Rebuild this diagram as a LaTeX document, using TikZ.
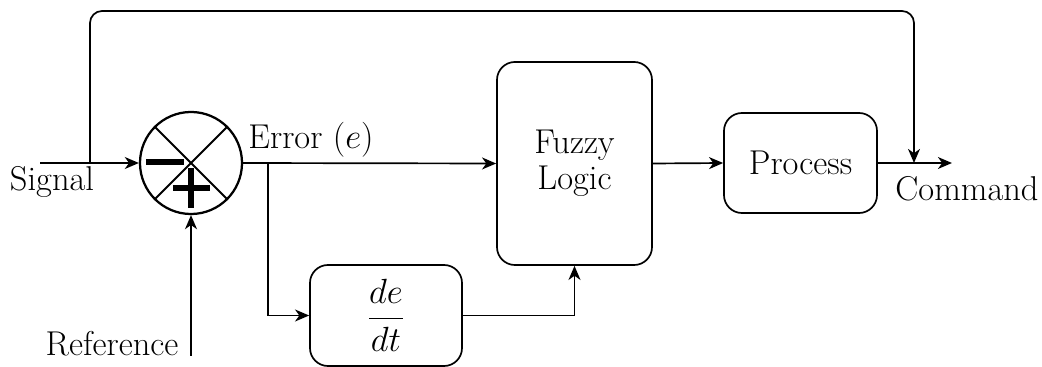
\documentclass[tikz,border=0pt]{standalone}
\usetikzlibrary{arrows.meta,calc}
\begin{document}
\begin{tikzpicture}[x=0.025cm,y=-0.025cm,
  every node/.style={font=\fontsize{24.5}{28}\selectfont},
  blockbox/.style={draw,line width=1.2pt,rounded corners=0.45cm,inner sep=0pt,align=center},
  arr/.style={line width=1.2pt,-{Stealth[length=10pt,width=8.5pt,inset=3pt]}},
  sign/.style={line width=4.6pt}]
\useasboundingbox (0,0) rectangle (1042,367);
% summing junction
\node[draw,circle,line width=1.6pt,minimum size=2.55cm,inner sep=0pt] (sum) at (191,163) {};
\draw[line width=1.4pt] (sum.north west) -- (sum.south east);
\draw[line width=1.4pt] (sum.north east) -- (sum.south west);
\draw[sign] (146,162) -- (184,162);
\draw[sign] (173,188) -- (210,188);
\draw[sign] (191,168) -- (191,208);
% blocks
\node[blockbox,minimum width=3.875cm,minimum height=5.075cm] (fuzzy) at (574.5,163.5) {Fuzzy\\[-2pt]Logic};
\node[blockbox,minimum width=3.825cm,minimum height=2.5cm] (process) at (800.5,163) {Process};
\node[blockbox,minimum width=3.8cm,minimum height=2.525cm] (deriv) at (386,315.5) {$\displaystyle\frac{de}{dt}$};
% labels
\node (signal) at (52,182) {Signal};
\node (reference) at (112,344) {Reference};
\node (error) at (311,140) {Error $(e)$};
\node (command) at (967,189) {Command};
% coordinates
\coordinate (sin) at (40,163);
\coordinate (sj) at (90,163);
\coordinate (rin) at (191,356);
\coordinate (br) at (268,163);
\coordinate (top) at (914,11);
\coordinate (cj) at (914,163);
\coordinate (cout) at (952,163);
% connectors
\draw[arr] (sin) -- (sum.west);
\draw[arr] (rin) -- (sum.south);
\draw[arr] (sum.east) -- (fuzzy.west);
\draw[arr] (br) |- (deriv.west);
\draw[arr] (deriv.east) -| (fuzzy.south);
\draw[arr] (fuzzy.east) -- (process.west);
\draw[arr] (process.east) -- (cout);
\draw[arr,rounded corners=0.3cm] (sj) |- (top) -- (cj);
\end{tikzpicture}
\end{document}
